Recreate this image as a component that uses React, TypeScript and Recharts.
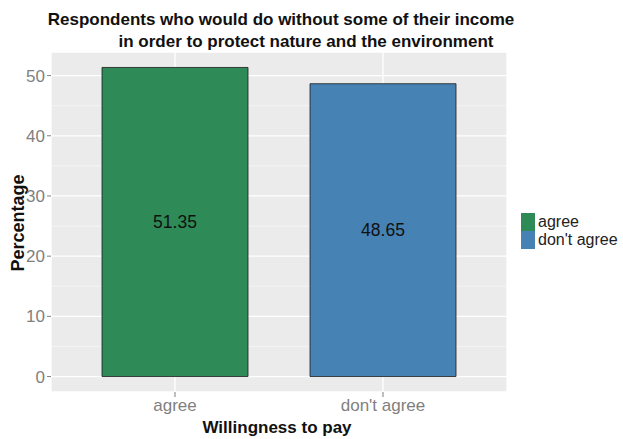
import { Bar, BarChart, CartesianGrid, LabelList, XAxis, YAxis } from 'recharts'

const categories = ['agree', "don't agree"]
const percentages = [51.35, 48.65]
const barColors = ['#2E8B57', '#4682B4']
const majorTicks = [0, 10, 20, 30, 40, 50]
const minorTicks = [5, 15, 25, 35, 45]
const yDomain: [number, number] = [-2.57, 53.92]

const chartData = categories.map((name, i) => ({ name, value: percentages[i], fill: barColors[i] }))

const FONT = '"Liberation Sans", Arial, sans-serif'
const TICK_GREY = '#7f7f7f'

// minor grid rows, placed with the y scale when available
const minorRows = ({ yAxis, offset }: any) =>
  minorTicks.map((v) => {
    const s = yAxis?.scale
    if (typeof s === 'function') return s(v)
    if (s && typeof s.map === 'function') return s.map(v)
    return offset.top + ((yDomain[1] - v) / (yDomain[1] - yDomain[0])) * offset.height
  })

export default function App() {
  return (
    <div style={{ position: 'absolute', left: 0, top: 0, width: 623, height: 439, background: '#fff', fontFamily: FONT }}>
      <BarChart
        width={623}
        height={439}
        data={chartData}
        margin={{ top: 52, right: 116, bottom: 17, left: 10 }}
      >
        <CartesianGrid vertical={false} fill="#EBEBEB" stroke="#F6F6F6" strokeWidth={0.8} horizontalCoordinatesGenerator={minorRows} />
        <CartesianGrid stroke="#FFFFFF" strokeWidth={1.3} />
        <XAxis
          dataKey="name"
          padding={{ left: 20, right: 20 }}
          axisLine={false}
          tickSize={5}
          tickLine={{ stroke: TICK_GREY }}
          tick={{ fill: TICK_GREY, fontSize: 17, fontFamily: FONT }}
        />
        <YAxis
          type="number"
          domain={yDomain}
          ticks={majorTicks}
          width={41}
          axisLine={false}
          tickSize={4}
          tickLine={{ stroke: TICK_GREY }}
          tick={{ fill: TICK_GREY, fontSize: 17, fontFamily: FONT }}
        />
        <Bar dataKey="value" barSize={146} stroke="#1a1a1a" strokeWidth={0.8} isAnimationActive={false}>
          <LabelList dataKey="value" position="center" fill="#111" fontSize={17.5} fontFamily={FONT} formatter={(v: number) => v.toFixed(2)} />
        </Bar>
        <text x={281} y={25} textAnchor="middle" fontSize={17} fontWeight="bold" fill="#111" fontFamily={FONT}>
          Respondents who would do without some of their income
        </text>
        <text x={306} y={47} textAnchor="middle" fontSize={17} fontWeight="bold" fill="#111" fontFamily={FONT}>
          in order to protect nature and the environment
        </text>
        <text x={277} y={433} textAnchor="middle" fontSize={17} fontWeight="bold" fill="#111" fontFamily={FONT}>
          Willingness to pay
        </text>
        <text x={24} y={223} textAnchor="middle" fontSize={18} fontWeight="bold" fill="#111" fontFamily={FONT} transform="rotate(-90 24 223)">
          Percentage
        </text>
        {categories.map((c, i) => (
          <g key={`lg${c}`}>
            <rect x={521} y={213 + i * 18} width={14} height={18} fill={barColors[i]} />
            <text x={538} y={227 + i * 18} fontSize={16} fill="#222" fontFamily={FONT}>
              {c}
            </text>
          </g>
        ))}
      </BarChart>
    </div>
  )
}
